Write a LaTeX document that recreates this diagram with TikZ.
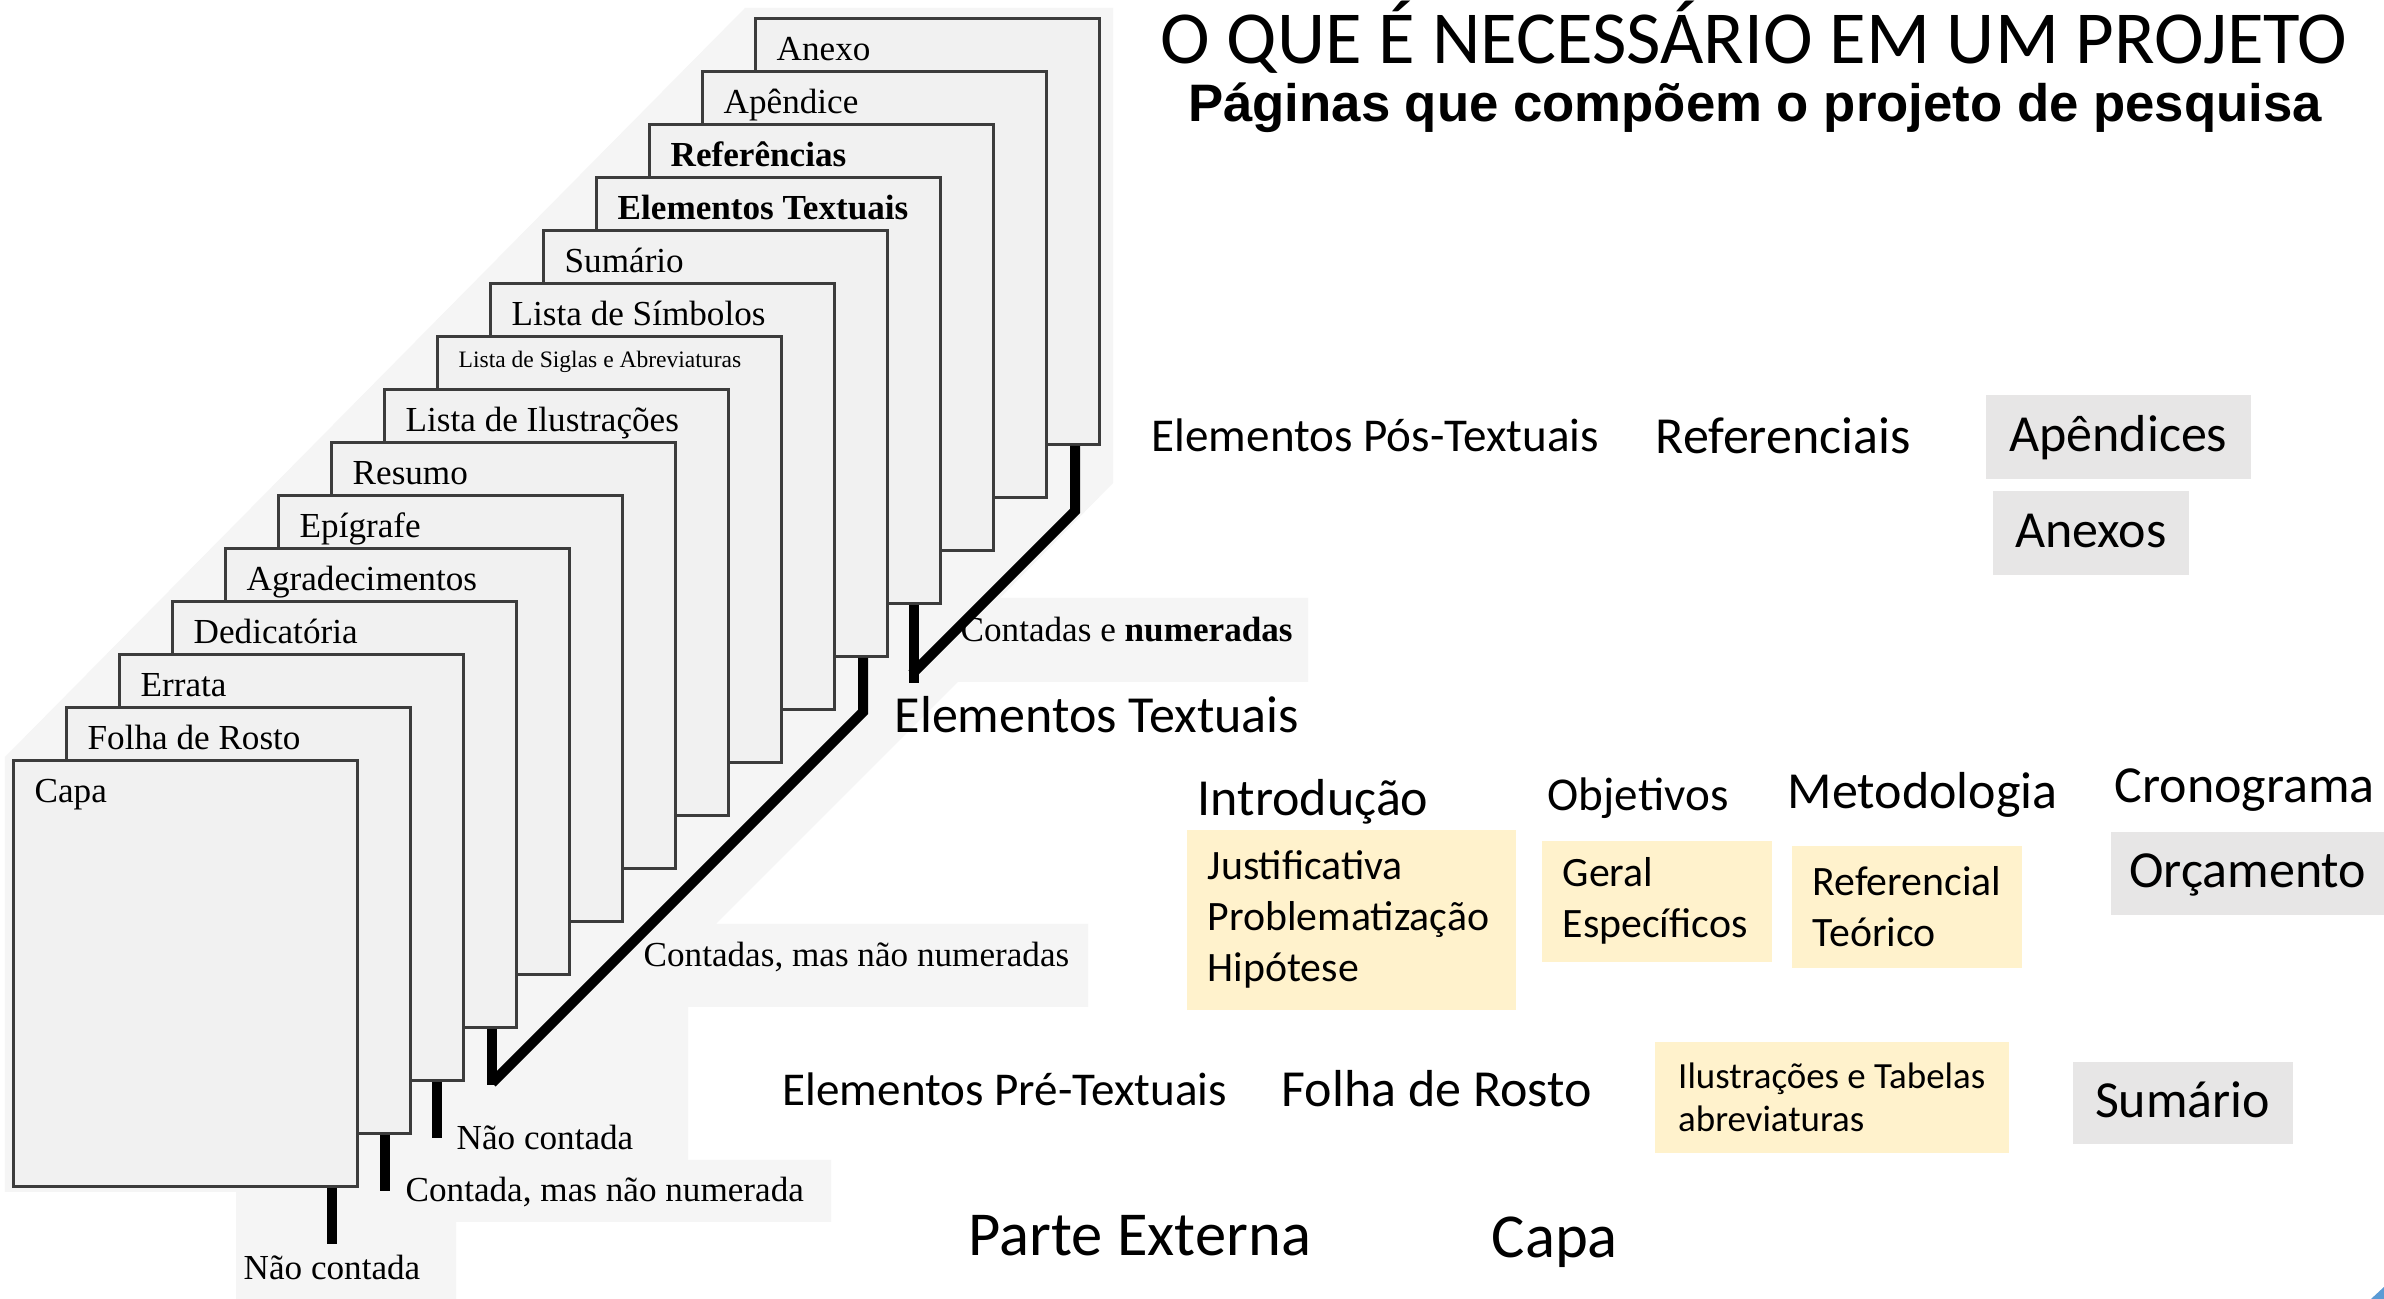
\documentclass[tikz,border=0pt]{standalone}
\usepackage{fontspec}
\usepackage{tikz}
\newfontfamily\scanfont{Liberation Serif}
\newfontfamily\slidefont{Carlito}
\newfontfamily\headfont{Liberation Sans}
\definecolor{scanbg}{HTML}{F5F5F5}
\definecolor{pagefill}{HTML}{F1F1F1}
\definecolor{pageline}{HTML}{3C3C3C}
\definecolor{noteyellow}{HTML}{FFF2CC}
\definecolor{notegray}{HTML}{E7E6E6}
\definecolor{cornerblue}{HTML}{5B9BD5}

\begin{document}
\begin{tikzpicture}[x=0.1mm, y=-0.1mm,
  page/.style={draw=pageline, fill=pagefill, line width=0.3mm, anchor=north west, inner sep=0pt, minimum width=34.4mm, minimum height=42.6mm},
  pagetext/.style={anchor=base west, inner sep=0pt, font=\scanfont\fontsize{10}{12}\selectfont},
  bracket/.style={line width=1mm},
  slide/.style={anchor=base west, inner sep=0pt, font=\slidefont\fontsize{14.8}{17}\selectfont},
  slidesmall/.style={slide, font=\slidefont\fontsize{13.4}{16}\selectfont},
  slidebig/.style={slide, font=\slidefont\fontsize{17.8}{21}\selectfont},
  ybox/.style={fill=noteyellow, anchor=north west, align=left, inner xsep=2.1mm, font=\slidefont\fontsize{11.9}{14.5}\selectfont},
  gbox/.style={fill=notegray, anchor=north west, inner sep=0pt, text height=1.04em, text depth=0.2em, font=\slidefont\fontsize{14.8}{17}\selectfont}]
%\draw[help lines] (0,0) grid (2384,1299);
\fill[white] (0,0) rectangle (2384,1299);
\useasboundingbox (0,0) rectangle (2384,1299);
\fill[scanbg] (745,8) -- (1113,8) -- (1113,483) -- (1000,598) -- (1308,598) -- (1308,682) -- (958,682) -- (716,924) -- (1088,924) -- (1088,1007) -- (688,1007) -- (688,1160) -- (831,1160) -- (831,1222) -- (456,1222) -- (456,1299) -- (236,1299) -- (236,1192) -- (5,1192) -- (5,757) -- cycle;

% pages, back to front
\node (anexo) [page] at (754,17) {};
\node (tanexo) [pagetext] at ([shift={(22,44)}]anexo.north west) {Anexo};
\node (apendice) [page] at (701,70) {};
\node (tapendice) [pagetext] at ([shift={(22,44)}]apendice.north west) {Apêndice};
\node (referencias) [page] at (648,123) {};
\node (treferencias) [pagetext] at ([shift={(22,44)}]referencias.north west) {\bfseries Referências};
\node (eltext) [page] at (595,176) {};
\node (teltext) [pagetext] at ([shift={(22,44)}]eltext.north west) {\bfseries Elementos Textuais};
\node (sumario) [page] at (542,229) {};
\node (tsumario) [pagetext] at ([shift={(22,44)}]sumario.north west) {Sumário};
\node (simbolos) [page] at (489,282) {};
\node (tsimbolos) [pagetext] at ([shift={(22,44)}]simbolos.north west) {Lista de Símbolos};
\node (siglas) [page] at (436,335) {};
\node (tsiglas) [pagetext, font=\scanfont\fontsize{6.7}{8}\selectfont] at ([shift={(22,33)}]siglas.north west) {Lista de Siglas e Abreviaturas};
\node (ilustr) [page] at (383,388) {};
\node (tilustr) [pagetext] at ([shift={(22,44)}]ilustr.north west) {Lista de Ilustrações};
\node (resumo) [page] at (330,441) {};
\node (tresumo) [pagetext] at ([shift={(22,44)}]resumo.north west) {Resumo};
\node (epigrafe) [page] at (277,494) {};
\node (tepigrafe) [pagetext] at ([shift={(22,44)}]epigrafe.north west) {Epígrafe};
\node (agrad) [page] at (224,547) {};
\node (tagrad) [pagetext] at ([shift={(22,44)}]agrad.north west) {Agradecimentos};
\node (dedic) [page] at (171,600) {};
\node (tdedic) [pagetext] at ([shift={(22,44)}]dedic.north west) {Dedicatória};
\node (errata) [page] at (118,653) {};
\node (terrata) [pagetext] at ([shift={(22,44)}]errata.north west) {Errata};
\node (folha) [page] at (65,706) {};
\node (tfolha) [pagetext] at ([shift={(22,44)}]folha.north west) {Folha de Rosto};
\node (capa) [page] at (12,759) {};
\node (tcapa) [pagetext] at ([shift={(22,44)}]capa.north west) {Capa};

% brackets
\draw[bracket] ([shift={(-26,0)}]anexo.south east) -- ++(0,65) -- ++(-163,163);
\draw[bracket] ([shift={(-28,0)}]eltext.south east) -- ++(0,78);
\draw[bracket] ([shift={(-26,0)}]sumario.south east) -- ++(0,54) -- ++(-371,371);
\draw[bracket] ([shift={(-26,0)}]dedic.south east) -- ++(0,56);
\draw[bracket] ([shift={(-28,0)}]errata.south east) -- ++(0,56);
\draw[bracket] ([shift={(-27,0)}]folha.south east) -- ++(0,56);
\draw[bracket] ([shift={(-27,0)}]capa.south east) -- ++(0,56);
\node (numer) [pagetext] at (960,642) {Contadas e \textbf{numeradas}};
\node (naonumer) [pagetext] at (643,967) {Contadas, mas não numeradas};
\node (naocont) [pagetext] at (456,1150) {Não contada};
\node (contada) [pagetext] at (405,1202) {Contada, mas não numerada};
\node (naocont2) [pagetext] at (243,1280) {Não contada};

% slide text
\node (title) [anchor=base, inner sep=0pt, font=\slidefont\fontsize{21.3}{25}\selectfont] at (1754,64) {O QUE É NECESSÁRIO EM UM PROJETO};
\node (subtitle) [anchor=base, inner sep=0pt, font=\headfont\bfseries\fontsize{15}{18}\selectfont] at (1755,122) {Páginas que compõem o projeto de pesquisa};
\node (pos) [slidesmall] at (1151,452) {Elementos Pós-Textuais};
\node (refer) [slide] at (1655,454) {Referenciais};
\node (apend) [gbox, minimum width=26.5mm, minimum height=8.4mm] at (1985,394) {Apêndices};
\node (anexos) [gbox, minimum width=19.6mm, minimum height=8.4mm] at (1992,490) {Anexos};
\node (textuais) [slide] at (894,733) {Elementos Textuais};
\node (intro) [slide] at (1197,816) {Introdução};
\node (objet) [slidesmall] at (1547,811) {Objetivos};
\node (metod) [slide] at (1787,809) {Metodologia};
\node (crono) [slide] at (2114,803) {Cronograma};
\node (introbox) [ybox, text width=28.7mm, minimum height=18mm] at (1186,829) {Justificativa\\Problematização\\Hipótese};
\node (objbox) [ybox, text width=18.8mm, minimum height=12.1mm] at (1541,840) {Geral\\Específicos};
\node (metbox) [ybox, text width=18.8mm, minimum height=12.2mm] at (1791,845) {Referencial\\Teórico};
\node (orcam) [gbox, minimum width=27.4mm, minimum height=8.3mm] at (2110,831) {Orçamento};
\node (pre) [slidesmall] at (782,1106) {Elementos Pré-Textuais};
\node (rosto) [slide] at (1281,1107) {Folha de Rosto};
\node (ilusbox) [ybox, minimum width=35.4mm, minimum height=11.1mm, font=\slidefont\fontsize{10.5}{12.2}\selectfont] at (1654,1041) {Ilustrações e Tabelas\\abreviaturas};
\node (sumbox) [gbox, minimum width=22mm, minimum height=8.2mm] at (2072,1061) {Sumário};
\node (externa) [slidebig] at (968,1256) {Parte Externa};
\node (capa2) [slidebig] at (1491,1258) {Capa};
\fill[cornerblue] (2371,1299) -- (2384,1287) -- (2384,1299) -- cycle;
\end{tikzpicture}
\end{document}
